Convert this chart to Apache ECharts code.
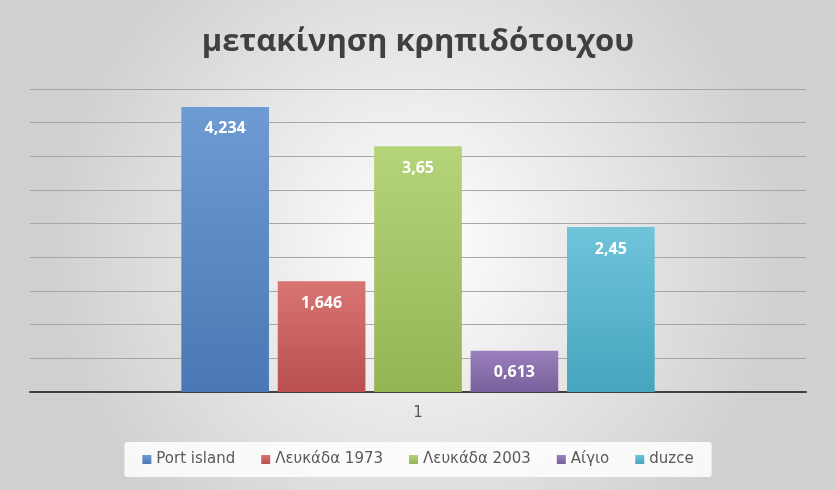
<!DOCTYPE html>
<html><head><meta charset="utf-8">
<script src="https://cdn.jsdelivr.net/npm/echarts@6/dist/echarts.min.js"></script>
<style>html,body{margin:0;padding:0;}#c{width:836px;height:490px;}</style>
</head><body><div id="c"></div>
<script>
const categories = ['1'];
const seriesNames = ['Port island','Λευκάδα 1973','Λευκάδα 2003','Αίγιο','duzce'];
const seriesValues = [[4.234],[1.646],[3.65],[0.613],[2.45]];
const labelTexts = ['4,234','1,646','3,65','0,613','2,45'];
const colors = [['#6f9bd3','#4a78b4'],['#d87572','#b9504d'],['#b5d47a','#94b554'],['#9a80bd','#77609b'],['#6fc4da','#45a5bf']];
const chart = echarts.init(document.getElementById('c'));
chart.setOption({
  backgroundColor: new echarts.graphic.RadialGradient(0.5,0.5,0.75,[{offset:0,color:'#ffffff'},{offset:1,color:'#d0d0d0'}]),
  title:{text:'μετακίνηση κρηπιδότοιχου',left:'center',top:22,textStyle:{fontFamily:'Open Sans',fontSize:31,fontWeight:'bold',color:'#404040'}},
  legend:{bottom:13,left:'center',icon:'rect',itemWidth:9,itemHeight:9,itemGap:26,backgroundColor:'rgba(255,255,255,0.85)',borderRadius:3,padding:[10,18],
    textStyle:{fontFamily:'DejaVu Sans',fontSize:15,color:'#595959'},data:seriesNames},
  grid:{left:30,right:30,top:89,bottom:98},
  xAxis:{type:'category',data:categories,axisTick:{show:false},axisLine:{lineStyle:{color:'#404040',width:2}},
    axisLabel:{margin:14,fontFamily:'DejaVu Sans',fontSize:15,color:'#595959'}},
  yAxis:{type:'value',min:0,max:4.5,interval:0.5,axisLabel:{show:false},axisLine:{show:false},axisTick:{show:false},
    splitLine:{lineStyle:{color:'#a6a6a6'}}},
  series: seriesNames.map((n,i)=>({name:n,type:'bar',data:seriesValues[i],barGap:'10%',barCategoryGap:'39%',
    itemStyle:{color:new echarts.graphic.LinearGradient(0,0,0,1,[{offset:0,color:colors[i][0]},{offset:1,color:colors[i][1]}])},
    label:{show:true,position:'insideTop',distance:14,formatter:()=>labelTexts[i],color:'#fff',fontWeight:'bold',fontFamily:'Open Sans',fontSize:16}}))
});
</script></body></html>
